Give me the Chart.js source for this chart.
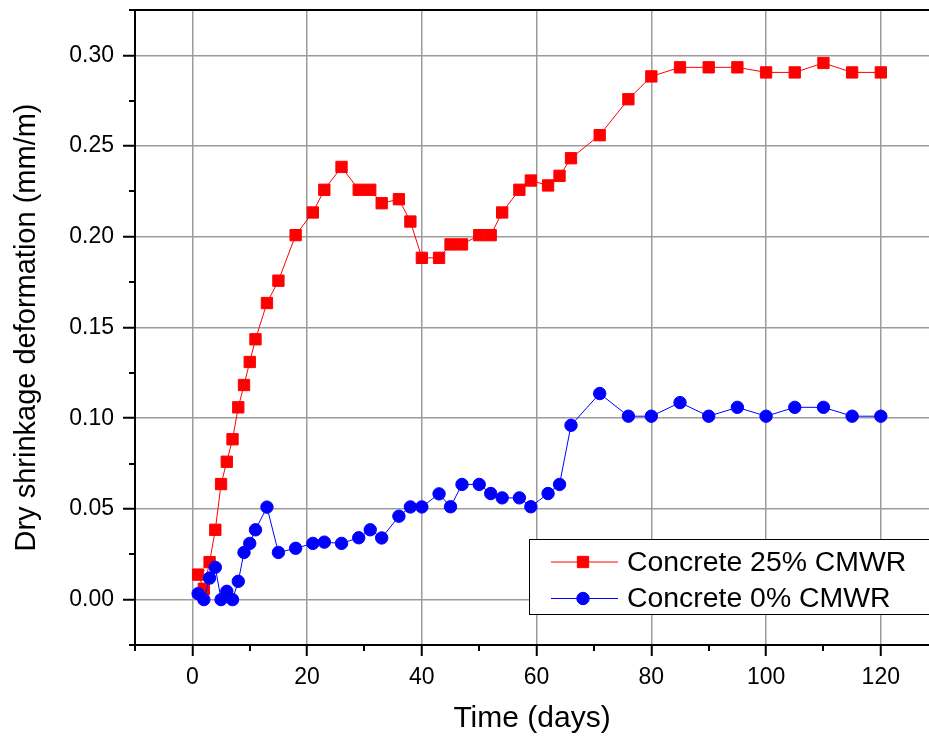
<!DOCTYPE html>
<html><head><meta charset="utf-8">
<script src="https://cdn.jsdelivr.net/npm/chart.js@4.4.0/dist/chart.umd.min.js"></script>
<style>html,body{margin:0;padding:0;background:#fff;overflow:hidden;}</style>
</head><body>
<canvas id="c" width="929" height="737"></canvas>
<script>
const days = [1,2,3,4,5,6,7,8,9,10,11,13,15,18,21,23,26,29,31,33,36,38,40,43,45,47,50,52,54,57,59,62,64,66,71,76,80,85,90,95,100,105,110,115,120];
const cmwr25 = [0.0138,0.0060,0.0207,0.0385,0.0637,0.0760,0.0884,0.1060,0.1183,0.1310,0.1435,0.1635,0.1758,0.2009,0.2134,0.2259,0.2385,0.2259,0.2259,0.2185,0.2207,0.2084,0.1884,0.1884,0.1958,0.1958,0.2009,0.2009,0.2134,0.2259,0.2310,0.2283,0.2336,0.2433,0.2560,0.2758,0.2884,0.2934,0.2934,0.2934,0.2906,0.2906,0.2958,0.2906,0.2906];
const cmwr0 = [0.0033,0.0000,0.0119,0.0178,0.0000,0.0046,0.0000,0.0101,0.0260,0.0310,0.0385,0.0510,0.0260,0.0283,0.0310,0.0317,0.0310,0.0341,0.0385,0.0340,0.0460,0.0511,0.0511,0.0583,0.0512,0.0635,0.0635,0.0585,0.0561,0.0561,0.0512,0.0585,0.0635,0.0961,0.1136,0.1011,0.1011,0.1086,0.1011,0.1060,0.1011,0.1060,0.1060,0.1011,0.1011];
const seriesLabels = ['Concrete 25% CMWR', 'Concrete 0% CMWR'];
const xTitle = 'Time (days)';
const yTitle = 'Dry shrinkage deformation (mm/m)';

const FONT = "'Liberation Sans', Arial, sans-serif";
const isMajorX = v => Math.abs(v / 20 - Math.round(v / 20)) < 1e-6;
const isMajorY = v => Math.abs(v / 0.05 - Math.round(v / 0.05)) < 1e-6;

const decorPlugin = {
  id: 'decor',
  afterDatasetsDraw(chart) {
    const ctx = chart.ctx, ca = chart.chartArea;
    const xs = chart.scales.x, ys = chart.scales.y;
    ctx.save();
    ctx.strokeStyle = '#000';
    ctx.lineWidth = 2;
    ctx.beginPath(); ctx.moveTo(ca.left - 1, ca.top); ctx.lineTo(ca.right, ca.top); ctx.stroke();
    xs.ticks.forEach(t => {
      if (!isMajorX(t.value)) {
        const p = Math.round(xs.getPixelForValue(t.value));
        ctx.beginPath(); ctx.moveTo(p, ca.bottom); ctx.lineTo(p, ca.bottom + 6); ctx.stroke();
      }
    });
    ys.ticks.forEach(t => {
      if (!isMajorY(t.value)) {
        const p = Math.round(ys.getPixelForValue(t.value));
        ctx.beginPath(); ctx.moveTo(ca.left, p); ctx.lineTo(ca.left - 6, p); ctx.stroke();
      }
    });
    ctx.restore();
  },
  afterDraw(chart) {
    const ctx = chart.ctx, ca = chart.chartArea;
    const x0 = ca.right - 400, y0 = ca.bottom - 106, w = 420, h = 75;
    ctx.save();
    ctx.fillStyle = '#fff';
    ctx.fillRect(x0, y0, w, h);
    ctx.strokeStyle = '#000';
    ctx.lineWidth = 1;
    ctx.strokeRect(x0 + 0.5, y0 + 0.5, w, h);
    chart.data.datasets.forEach((ds, i) => {
      const cy = y0 + 23 + i * 36.5;
      ctx.strokeStyle = ds.borderColor;
      ctx.lineWidth = 1;
      ctx.beginPath(); ctx.moveTo(x0 + 22, cy); ctx.lineTo(x0 + 89, cy); ctx.stroke();
      ctx.fillStyle = ds.pointBackgroundColor;
      ctx.strokeStyle = ds.pointBorderColor;
      Chart.helpers.drawPoint(ctx, {pointStyle: ds.pointStyle, radius: ds.pointRadius, rotation: 0, borderWidth: 1}, x0 + 54, cy);
      ctx.fillStyle = '#000';
      ctx.font = '28.4px ' + FONT;
      ctx.textBaseline = 'middle';
      ctx.textAlign = 'left';
      ctx.fillText(ds.label, x0 + 98, cy + 1);
    });
    ctx.restore();
  }
};

new Chart(document.getElementById('c'), {
  type: 'line',
  data: {
    datasets: [
      {
        label: seriesLabels[0],
        data: days.map((d, i) => ({x: d, y: cmwr25[i]})),
        borderColor: '#ff0000', backgroundColor: '#ff0000',
        pointBackgroundColor: '#ff0000', pointBorderColor: '#ff0000',
        pointStyle: 'rect', pointRadius: 8, borderWidth: 1, pointBorderWidth: 1,
        tension: 0, order: 1
      },
      {
        label: seriesLabels[1],
        data: days.map((d, i) => ({x: d, y: cmwr0[i]})),
        borderColor: '#0000ff', backgroundColor: '#0000ff',
        pointBackgroundColor: '#0000ff', pointBorderColor: '#0000ff',
        pointStyle: 'circle', pointRadius: 6.2, borderWidth: 1, pointBorderWidth: 1,
        tension: 0, order: 0
      }
    ]
  },
  options: {
    responsive: false,
    devicePixelRatio: 1,
    animation: false,
    layout: {autoPadding: false, padding: {top: 10, right: 0, left: 0, bottom: 0}},
    plugins: {legend: {display: false}, tooltip: {enabled: false}},
    scales: {
      x: {
        type: 'linear', min: -10, max: 128.4,
        afterFit: s => { s.height = 92; s.paddingLeft = 0; s.paddingRight = 0; },
        ticks: {
          stepSize: 10, includeBounds: false, autoSkip: false, maxRotation: 0,
          color: '#000', font: {family: FONT, size: 23}, padding: 8,
          callback: v => isMajorX(v) ? String(Math.round(v)) : ''
        },
        grid: {
          color: c => (c.tick && isMajorX(c.tick.value)) ? '#9c9c9c' : 'rgba(0,0,0,0)',
          lineWidth: 1.5,
          tickColor: c => (c.tick && isMajorX(c.tick.value)) ? '#000' : 'rgba(0,0,0,0)',
          tickLength: 11, tickWidth: 2
        },
        border: {display: true, color: '#000', width: 2},
        title: {display: true, text: xTitle, color: '#000', font: {family: FONT, size: 30}, padding: {top: 0, bottom: 0}}
      },
      y: {
        type: 'linear', min: -0.025, max: 0.325,
        afterFit: s => { s.width = 135; s.paddingTop = 0; s.paddingBottom = 0; },
        ticks: {
          stepSize: 0.025, includeBounds: false, autoSkip: false,
          color: '#000', font: {family: FONT, size: 23}, padding: 9,
          callback: v => { if (Math.abs(v) < 1e-9) v = 0; return isMajorY(v) ? v.toFixed(2) : ''; }
        },
        grid: {
          color: c => (c.tick && isMajorY(c.tick.value)) ? '#9c9c9c' : 'rgba(0,0,0,0)',
          lineWidth: 1.5,
          tickColor: c => (c.tick && isMajorY(c.tick.value)) ? '#000' : 'rgba(0,0,0,0)',
          tickLength: 12, tickWidth: 2
        },
        border: {display: true, color: '#000', width: 2},
        title: {display: true, text: yTitle, color: '#000', font: {family: FONT, size: 29}, padding: {top: 10, bottom: 0}}
      }
    }
  },
  plugins: [decorPlugin]
});
</script>
</body></html>
